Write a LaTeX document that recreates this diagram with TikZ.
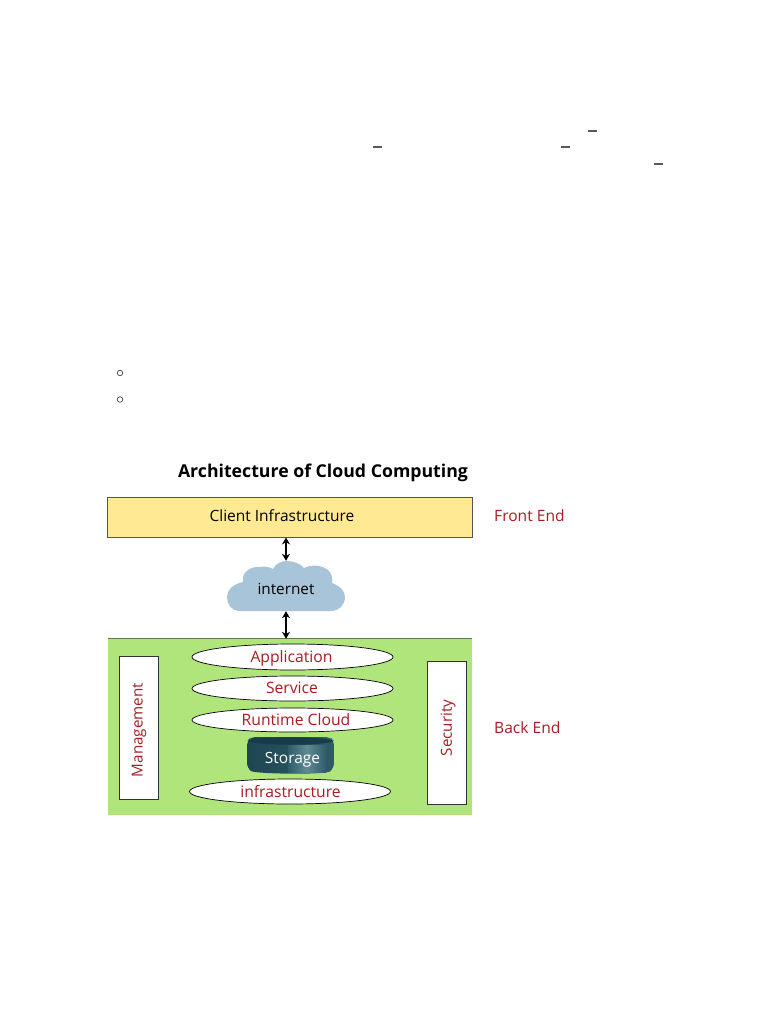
\documentclass[tikz,border=0pt]{standalone}
\usepackage{fontspec}
\setmainfont{Open Sans}
\usetikzlibrary{shapes.geometric,arrows.meta,calc}
\definecolor{redtxt}{HTML}{A81C22}
\definecolor{yel}{HTML}{FFE993}
\definecolor{grn}{HTML}{AFE57B}
\definecolor{cloudc}{HTML}{A8C4D8}
\definecolor{edgeg}{HTML}{555555}
\definecolor{stdark}{HTML}{1E4652}
\definecolor{stmid}{HTML}{2F5C68}
\definecolor{stlight}{HTML}{5F8A94}
\tikzset{
 lens/.style={ellipse,draw=black,line width=.7pt,fill=white,inner sep=0pt,minimum width=201pt},
 lenstxt/.style={text=redtxt,font=\fontsize{15.7}{17}\selectfont,inner sep=0pt},
 sidebox/.style={rectangle,draw=black!80,line width=.8pt,fill=white,inner sep=0pt,minimum width=39pt,minimum height=143pt},
 sidetxt/.style={text=redtxt,font=\fontsize{15.2}{17}\selectfont,rotate=90,inner sep=0pt},
 endtxt/.style={text=redtxt,font=\fontsize{15.6}{17}\selectfont,anchor=west,inner sep=0pt},
 dbl/.style={{Stealth[length=7pt,width=8pt]}-{Stealth[length=7pt,width=8pt]},line width=1.1pt,black},
 tick/.style={draw=black!65,line width=1.1pt},
 bullet/.style={circle,draw=black!75,line width=.7pt,minimum size=5.5pt,inner sep=0pt}
}
\begin{document}
\begin{tikzpicture}[x=1pt,y=-1pt]
\useasboundingbox (0,0) rectangle (768,1024);
% stray marks of the page
\draw[tick] (588,131) -- (597,131);
\draw[tick] (373,147) -- (382,147);
\draw[tick] (561,147) -- (570,147);
\draw[tick] (654,164) -- (663,164);
\node[bullet] (b1) at (120,373) {};
\node[bullet] (b2) at (120,399.5) {};
% title
\node[font=\bfseries\fontsize{17.7}{20}\selectfont,inner sep=0pt] (title) at (323,472.5) {Architecture of Cloud Computing};
% front end
\node[draw=edgeg,line width=.9pt,fill=yel,minimum width=365pt,minimum height=40pt,inner sep=0pt] (client) at (289.5,517) {};
\node[font=\fontsize{15.5}{17}\selectfont,inner sep=0pt] (clienttxt) at (282,516) {Client Infrastructure};
\node[endtxt] (front) at (494,516) {Front End};
% back end
\node[fill=grn,minimum width=364pt,minimum height=176pt,inner sep=0pt] (backend) at (290,727) {};
\draw[black!45!grn,line width=.7pt] (backend.north west) -- (backend.north east);
% cloud
\fill[cloudc] (240,611)
 .. controls (231,611) and (227,604) .. (227,597)
 .. controls (227,590) and (233,584) .. (243,582)
 .. controls (241,573) and (250,566) .. (260,567)
 .. controls (265,566) and (270,567) .. (273,569)
 .. controls (276,563) and (282,561) .. (287,561)
 .. controls (294,561) and (301,564) .. (304,568)
 .. controls (312,564) and (323,565) .. (329,571)
 .. controls (332,575) and (333,579) .. (332,583)
 .. controls (340,586) and (345,591) .. (345,597)
 .. controls (345,605) and (339,611) .. (331,611) -- cycle;
\node[minimum width=118pt,minimum height=50pt,inner sep=0pt] (internet) at (286,586) {};
\node[font=\fontsize{15.3}{17}\selectfont,inner sep=0pt] (internettxt) at (286,589) {internet};
\draw[dbl] (client.south -| internet.north) -- (internet.north);
\draw[dbl] (internet.south) -- (backend.north -| internet.south);
% layers
\node[lens,minimum height=26pt] (app) at (292.5,657) {};
\node[lenstxt] (apptxt) at (291.5,658.5) {Application};
\node[lens,minimum height=25pt] (svc) at (292.5,688.5) {};
\node[lenstxt] (svctxt) at (292,688) {Service};
\node[lens,minimum height=24pt] (run) at (292.5,720) {};
\node[lenstxt] (runtxt) at (296,720) {Runtime Cloud};
\node[lens,minimum height=25pt] (inf) at (290,791.5) {};
\node[lenstxt] (inftxt) at (290.5,792) {infrastructure};
% storage
\shade[left color=stdark,right color=stmid,rounded corners=5pt]
 (247,741) -- (247,768) .. controls (255,774) and (326,775) .. (334,768) -- (334,741) -- (330,737) -- (251,737) -- cycle;
\shade[left color=stmid,right color=stmid,middle color=stlight]
 (288,745.5) rectangle (326,772.5);
\fill[stdark!85!black] (247.5,741) .. controls (255,746) and (326,746) .. (333.5,741) .. controls (326,736) and (255,736) .. (247.5,741) -- cycle;
\node[text=white,font=\fontsize{15.5}{17}\selectfont,inner sep=0pt] (storage) at (292.5,759.5) {Storage};
% side boxes
\node[sidebox] (mgmt) at (138.5,727.5) {};
\node[sidetxt] (mgmttxt) at (139,730) {Management};
\node[sidebox] (sec) at (446.5,732.5) {};
\node[sidetxt] (sectxt) at (448,728) {Security};
\node[endtxt] (back) at (494,727.5) {Back End};
\end{tikzpicture}
\end{document}
